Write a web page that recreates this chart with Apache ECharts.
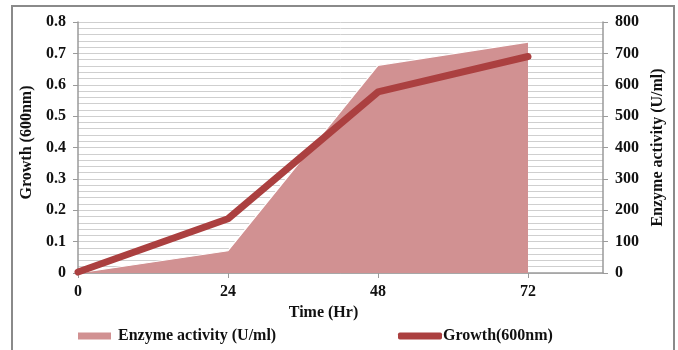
<!DOCTYPE html>
<html>
<head>
<meta charset="utf-8">
<style>
  html, body { margin: 0; padding: 0; background: #fff; }
  #chart { width: 678px; height: 350px; }
</style>
<script src="https://cdn.jsdelivr.net/npm/echarts@6/dist/echarts.min.js"></script>
</head>
<body>
<div id="chart"></div>
<script>
// Sampling times (hours)
const timeHr = [0, 24, 48, 72];
// Enzyme activity, U/ml (right axis)
const enzymeActivity = [0, 71, 662, 736];
// Growth, OD at 600 nm (left axis)
const growth600 = [0.003, 0.173, 0.577, 0.69];

const fontFamily = '"Liberation Serif", "Times New Roman", serif';
const areaColor = '#d19192';
const lineColor = '#ab4040';
const axisGray = '#9a9a9a';
const gridGray = '#cfcfcf';

const chart = echarts.init(document.getElementById('chart'), null, { renderer: 'canvas' });

const textBold = { fontFamily, fontWeight: 'bold', color: '#111', fontSize: 16 };

chart.setOption({
  animation: false,
  backgroundColor: '#fff',
  grid: { left: 78, right: 75, top: 22, bottom: 77 },
  graphic: [{
    type: 'rect',
    shape: { x: 12, y: 6, width: 662, height: 360 },
    style: { fill: 'none', stroke: '#8a8a8a', lineWidth: 2 },
    silent: true
  }],
  legend: [{
    left: 73, top: 323,
    icon: 'rect', itemWidth: 33, itemHeight: 7, itemGap: 10,
    textStyle: Object.assign({}, textBold, { padding: [0, 0, 0, 2] }),
    data: [{ name: 'Enzyme activity (U/ml)', icon: 'rect', itemStyle: { color: areaColor } }]
  }, {
    left: 393, top: 323,
    itemWidth: 44, itemHeight: 7,
    textStyle: Object.assign({}, textBold, { padding: [0, 0, 0, -4] }),
    data: [{ name: 'Growth(600nm)', icon: 'roundRect', itemStyle: { color: lineColor } }]
  }],
  xAxis: {
    type: 'value', min: 0, max: 84, interval: 24,
    name: 'Time (Hr)', nameLocation: 'middle', nameGap: 28,
    nameTextStyle: Object.assign({}, textBold, { padding: [0, 34, 0, 0] }),
    axisLine: { lineStyle: { color: axisGray, width: 1.5 } },
    axisTick: { show: true, length: 5, lineStyle: { color: axisGray } },
    axisLabel: Object.assign({}, textBold, { margin: 11, showMaxLabel: false }),
    splitLine: { show: false }
  },
  yAxis: [{
    type: 'value', min: 0, max: 0.8, interval: 0.1,
    name: 'Growth (600nm)', nameLocation: 'middle', nameGap: 38, nameRotate: 90,
    nameTextStyle: Object.assign({}, textBold, { padding: [0, 0, 0, 10] }),
    axisLine: { show: true, lineStyle: { color: axisGray, width: 1.5 } },
    axisTick: { show: true, length: 5, lineStyle: { color: axisGray } },
    axisLabel: Object.assign({}, textBold, { margin: 12 }),
    splitLine: { show: true, lineStyle: { color: gridGray, width: 1 } },
    minorTick: { show: false, splitNumber: 5 },
    minorSplitLine: { show: true, lineStyle: { color: gridGray, width: 1 } }
  }, {
    type: 'value', min: 0, max: 800, interval: 100,
    name: 'Enzyme activity (U/ml)', nameLocation: 'middle', nameGap: 46, nameRotate: 90,
    nameTextStyle: Object.assign({}, textBold, { padding: [0, 0, 0, 0] }),
    position: 'right',
    axisLine: { show: true, lineStyle: { color: axisGray, width: 1.5 } },
    axisTick: { show: true, length: 5, lineStyle: { color: axisGray } },
    axisLabel: Object.assign({}, textBold, { margin: 12 }),
    splitLine: { show: false }
  }],
  series: [{
    name: 'Enzyme activity (U/ml)',
    type: 'line',
    yAxisIndex: 1,
    data: timeHr.map((t, i) => [t, enzymeActivity[i]]),
    symbol: 'none',
    lineStyle: { color: '#ffffff', width: 1.2 },
    itemStyle: { color: areaColor },
    areaStyle: { color: areaColor, opacity: 1 },
    z: 2
  }, {
    name: 'Growth(600nm)',
    type: 'line',
    yAxisIndex: 0,
    data: timeHr.map((t, i) => [t, growth600[i]]),
    symbol: 'none',
    lineStyle: { color: lineColor, width: 7, cap: 'round', join: 'round' },
    itemStyle: { color: lineColor },
    z: 3
  }]
});
</script>
</body>
</html>
